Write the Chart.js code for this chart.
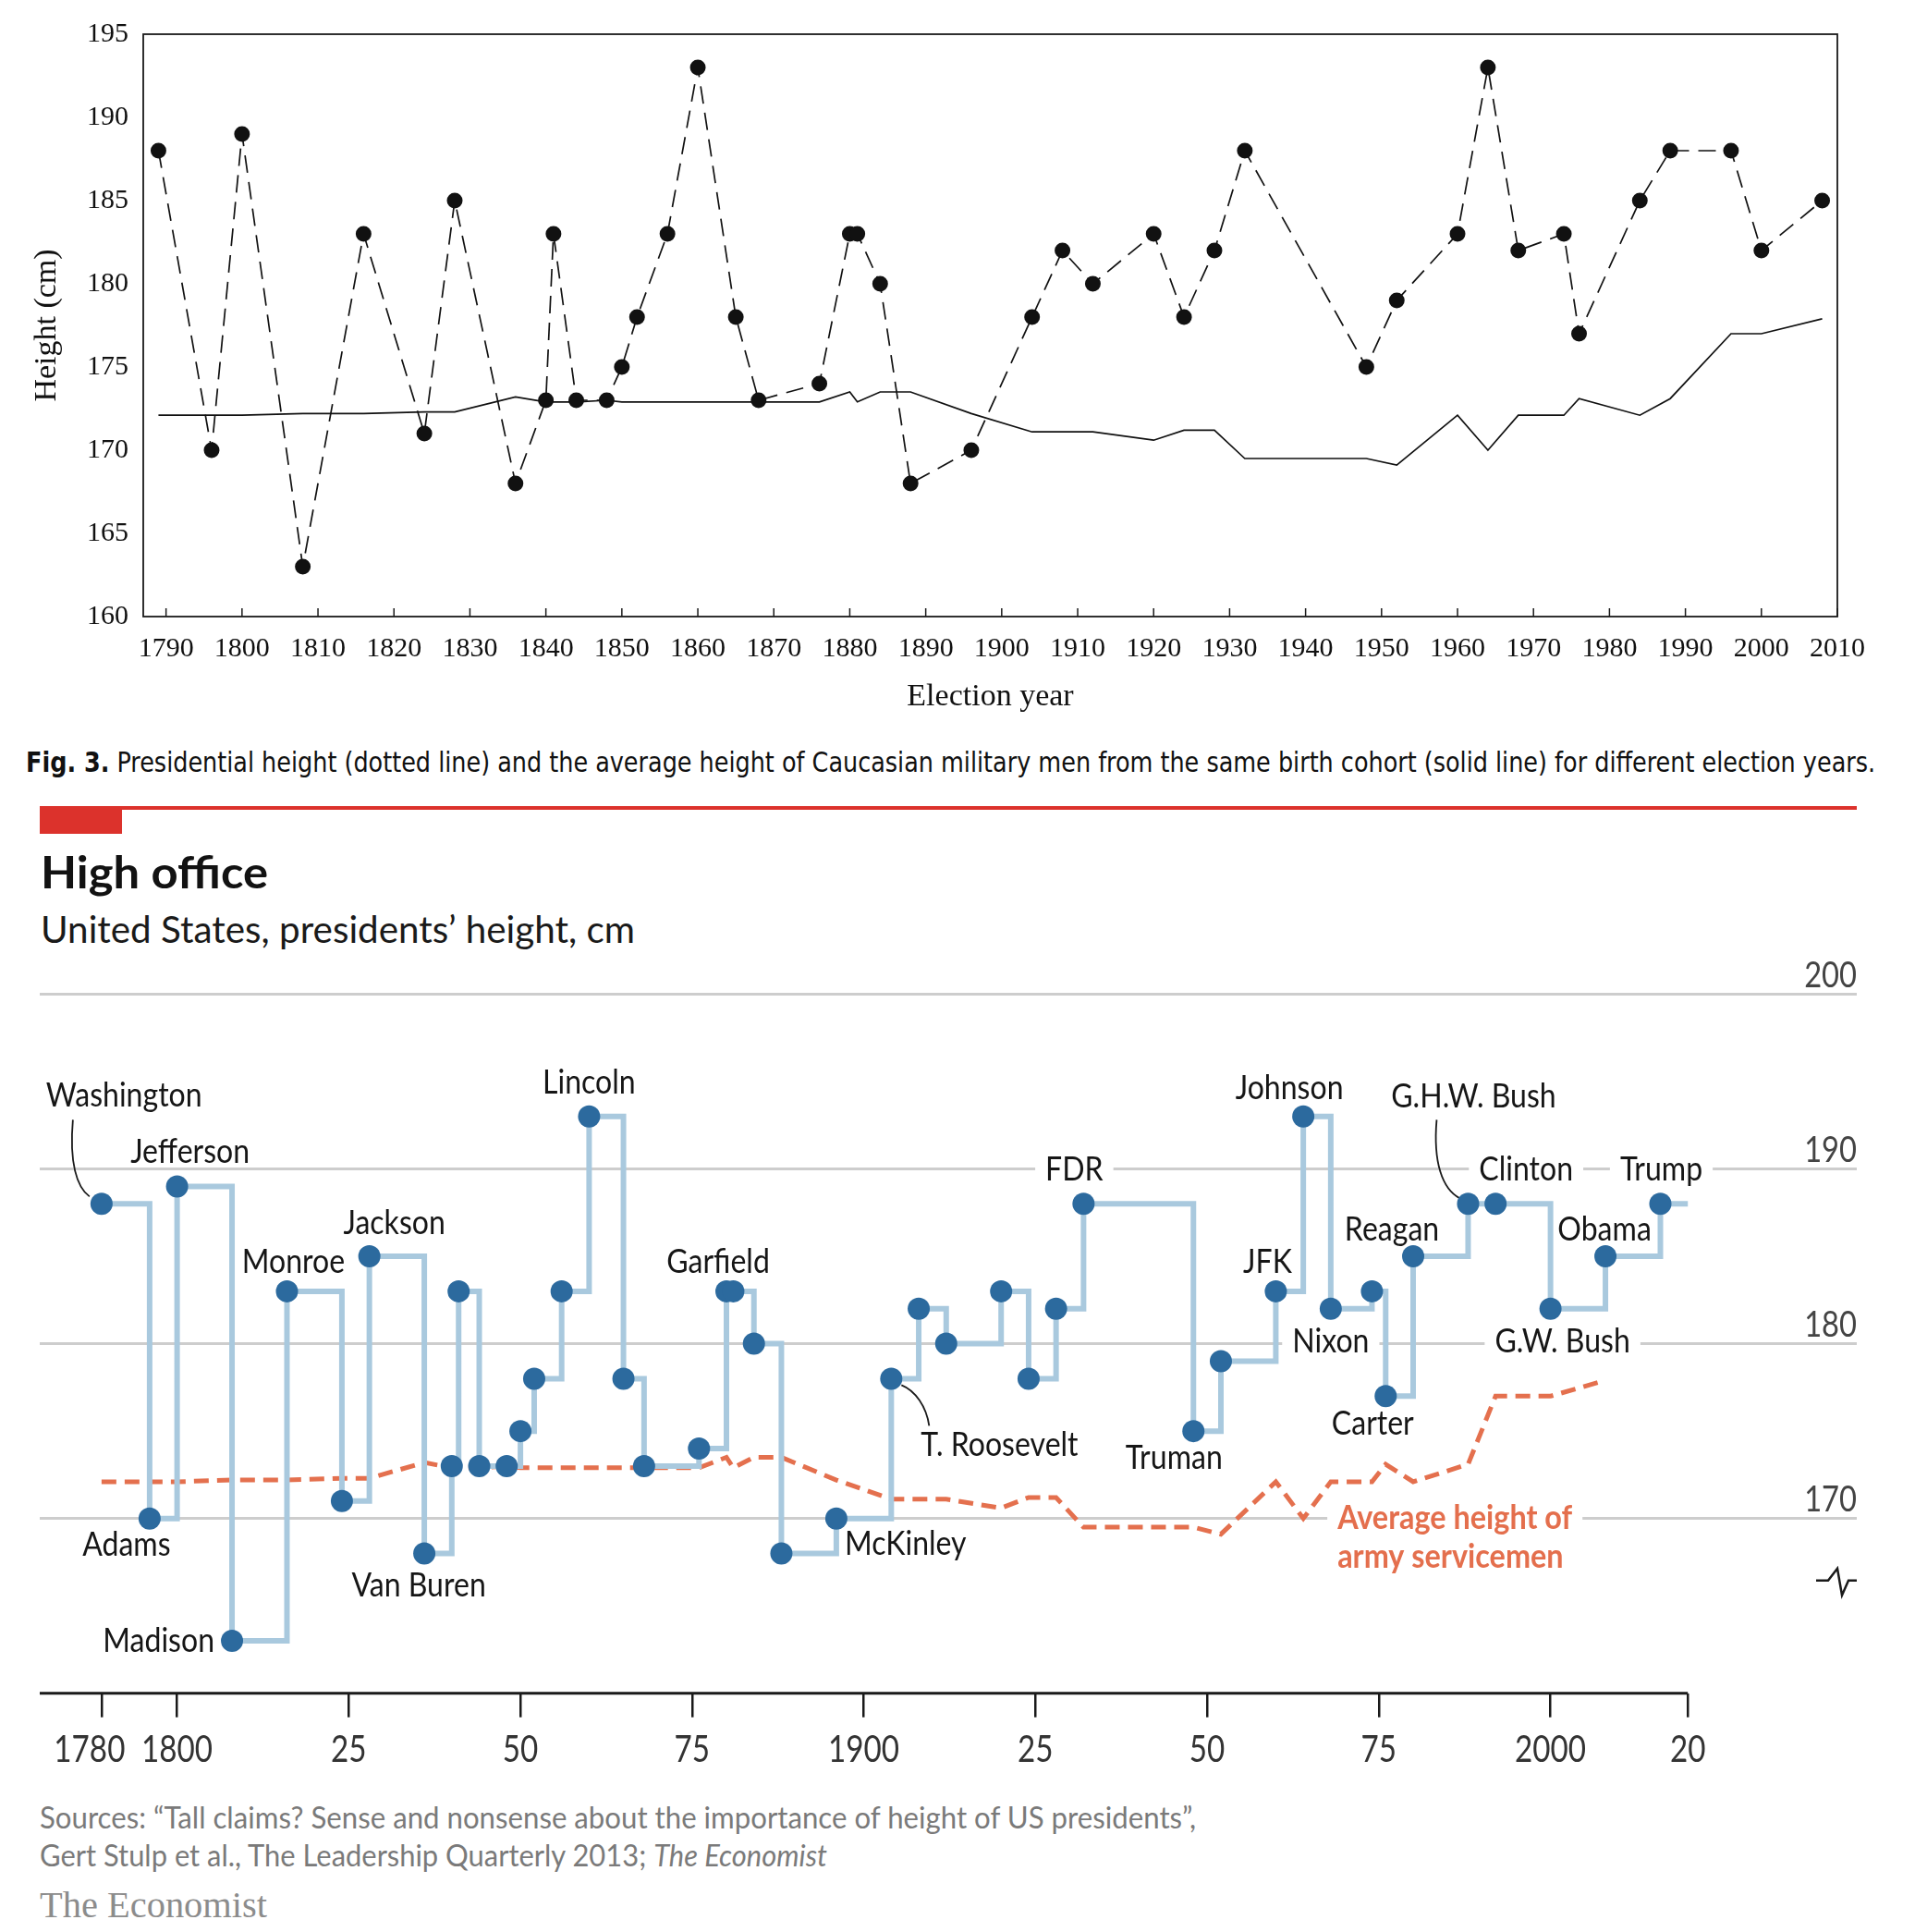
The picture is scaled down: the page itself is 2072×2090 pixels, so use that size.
<!DOCTYPE html>
<html>
<head>
<meta charset="utf-8">
<script src="https://cdn.jsdelivr.net/npm/chart.js@4.4.1/dist/chart.umd.min.js"></script>
<style>
html,body{margin:0;padding:0;background:#fff;}
body{width:2072px;height:2090px;position:relative;overflow:hidden;}
.abs{position:absolute;white-space:nowrap;}
.fit{display:inline-block;transform-origin:0 50%;white-space:nowrap;}
#topWrap{position:absolute;left:0;top:0;width:2072px;height:790px;}
#botWrap{position:absolute;left:0;top:1000px;width:2072px;height:940px;}
</style>
</head>
<body>
<div id="topWrap"><canvas id="topChart"></canvas></div>

<div class="abs" style="left:28px;top:804px;font:31px/40px 'Liberation Sans Narrow','DejaVu Sans Condensed','Liberation Sans',sans-serif;color:#111;">
<span class="fit" data-w="2001"><b>Fig. 3.</b> Presidential height (dotted line) and the average height of Caucasian military men from the same birth cohort (solid line) for different election years.</span></div>

<div class="abs" style="left:43px;top:872px;width:1966px;height:4px;background:#dc322c"></div>
<div class="abs" style="left:43px;top:872px;width:89px;height:30px;background:#dc322c"></div>

<div class="abs" style="left:44px;top:915px;font:bold 48px/56px Lato,'Noto Sans',sans-serif;color:#121212;">
<span class="fit" data-w="246">High office</span></div>
<div class="abs" style="left:44px;top:980px;font:41px/50px Lato,'Noto Sans',sans-serif;color:#1a1a1a;">
<span class="fit" data-w="643">United States, presidents’ height, cm</span></div>

<div id="botWrap"><canvas id="botChart"></canvas></div>

<div class="abs" style="left:43px;top:1945px;font:32px/41px Lato,'Noto Sans',sans-serif;color:#7a7a7a;">
<span class="fit" data-w="1251">Sources: “Tall claims? Sense and nonsense about the importance of height of US presidents”,</span><br>
<span class="fit" data-w="852">Gert Stulp et al., The Leadership Quarterly 2013; <i>The Economist</i></span></div>
<div class="abs" style="left:43px;top:2037px;font:40px/48px 'Liberation Serif','DejaVu Serif',serif;color:#8c8c8c;">
<span class="fit" data-w="246">The Economist</span></div>

<script>
// ---------------- DATA ----------------
const presidents = ["Washington","Adams","Jefferson","Madison","Monroe","J.Q. Adams","Jackson","Van Buren",
  "W.H. Harrison","Tyler","Polk","Taylor","Fillmore","Pierce","Buchanan","Lincoln","A. Johnson","Grant",
  "Hayes","Garfield","Arthur","Cleveland","B. Harrison","McKinley","T. Roosevelt","Taft","Wilson","Harding",
  "Coolidge","Hoover","FDR","Truman","Eisenhower","JFK","Johnson","Nixon","Ford","Carter","Reagan",
  "G.H.W. Bush","Clinton","G.W. Bush","Obama","Trump"];
const heightsCm = [188,170,189,163,183,171,185,168,173,183,173,173,175,178,183,193,178,173,174,183,183,180,
  168,170,178,182,180,183,178,182,188,175,179,183,193,182,183,177,185,188,188,182,185,188];
// election years used in Fig. 3 (Stulp et al.)
const yearsFig3 = [1789,1796,1800,1808,1816,1824,1828,1836,1840,1841,1844,1848,1850,1852,1856,1860,1865,1868,
  1876,1880,1881,1884,1888,1896,1904,1908,1912,1920,1924,1928,1932,1948,1952,1960,1964,1968,1974,1976,1984,
  1988,1996,2000,2008];
// years used in The Economist chart
const yearsEcon = [1789,1796,1800,1808,1816,1824,1828,1836,1840,1841,1844,1848,1850,1852,1856,1860,1865,1868,
  1876,1880,1881,1884,1888,1896,1904,1908,1912,1920,1924,1928,1932,1948,1952,1960,1964,1968,1974,1976,1980,
  1988,1992,2000,2008,2016];
const econLineEnd = 2020;
// average height of military men of the same birth cohort
const armyAvgCm = [172.1,172.1,172.1,172.2,172.2,172.3,172.3,173.2,172.9,172.9,172.9,173.0,172.9,172.9,172.9,
  172.9,172.9,172.9,172.9,173.5,172.9,173.5,173.5,172.2,171.1,171.1,171.1,170.6,171.2,171.2,169.5,169.5,169.1,
  172.1,170.0,172.1,172.1,173.1,172.1,173.1,177.0,177.0,177.9];
const fig3XTicks = [1790,1800,1810,1820,1830,1840,1850,1860,1870,1880,1890,1900,1910,1920,1930,1940,1950,1960,
  1970,1980,1990,2000,2010];
const fig3YTicks = [160,165,170,175,180,185,190,195];
const econXTicks = [1789,1800,1825,1850,1875,1900,1925,1950,1975,2000,2020];
const econXTickLabels = ["1780","1800","25","50","75","1900","25","50","75","2000","20"];
const econYTicks = [170,180,190,200];

// ---------------- LAYOUT / STYLE ----------------
const SERIF = "'Liberation Serif','DejaVu Serif',serif";
const SANS = "Lato,'Noto Sans',sans-serif";
const econLabels = [
 {i:0, dx:-60, dy:-117, align:'left'},
 {i:1, dx:-25, dy:29, align:'center'},
 {i:2, dx:14, dy:-37, align:'center'},
 {i:3, dx:-19, dy:0, align:'right'},
 {i:4, dx:7, dy:-31, align:'center'},
 {i:6, dx:27, dy:-36, align:'center'},
 {i:7, dx:-6, dy:35, align:'center'},
 {i:15, dx:0, dy:-36, align:'center'},
 {i:19, dx:-9, dy:-31, align:'center'},
 {i:23, dx:9, dy:28, align:'left'},
 {i:24, dx:32, dy:72, align:'left'},
 {i:30, dx:-10, dy:-37, align:'center', ko:true},
 {i:31, dx:-21, dy:29, align:'center'},
 {i:33, dx:-9, dy:-31, align:'center'},
 {i:34, dx:-15, dy:-30, align:'center'},
 {i:35, dx:0, dy:36, align:'center', ko:true},
 {i:37, dx:-14, dy:30, align:'center'},
 {i:38, dx:-23, dy:-29, align:'center'},
 {i:39, dx:6, dy:-116, align:'center'},
 {i:40, dx:33, dy:-37, align:'center', ko:true},
 {i:41, dx:13, dy:36, align:'center', ko:true},
 {i:42, dx:-1, dy:-29, align:'center'},
 {i:43, dx:1, dy:-37, align:'center', ko:true}
];
const econLeaders = [
 {i:0, p:[[-31,-91],[-35,-45],[-27,-18],[-13,-8]]},
 {i:24, p:[[11,7],[26,13],[38,30],[41,51]]},
 {i:39, p:[[-34,-91],[-38,-45],[-28,-16],[-9,-6]]}
];
const avgLabel = {i:34, dx:37, dy:0, gap:42, lines:["Average height of","army servicemen"]};
const firstXLabelShift = -13;

function txt(ctx, s, x, y, align, font, color, sx, base) {
  ctx.save();
  ctx.font = font; ctx.fillStyle = color; ctx.textAlign = align; ctx.textBaseline = base || 'middle';
  ctx.translate(x, y); ctx.scale(sx, 1); ctx.fillText(s, 0, 0);
  ctx.restore();
}
function knock(ctx, s, x, y, align, font, sx) {
  ctx.save(); ctx.font = font;
  const w = ctx.measureText(s).width * sx;
  let x0 = align === 'left' ? x : align === 'right' ? x - w : x - w / 2;
  ctx.fillStyle = '#fff';
  ctx.fillRect(x0 - 11, y - 15, w + 22, 30);
  ctx.restore();
}

// ---------------- TOP CHART ----------------
const fig3Frame = {
  id: 'fig3Frame',
  afterDraw(chart) {
    const {ctx, chartArea: a, scales: {x}} = chart;
    ctx.save();
    ctx.strokeStyle = '#1a1a1a'; ctx.lineWidth = 1.8;
    ctx.strokeRect(a.left, a.top, a.right - a.left, a.bottom - a.top);
    ctx.lineWidth = 1.5;
    fig3XTicks.forEach(v => {
      const px = x.getPixelForValue(v);
      ctx.beginPath(); ctx.moveTo(px, a.bottom); ctx.lineTo(px, a.bottom - 9); ctx.stroke();
    });
    ctx.restore();
  }
};

new Chart(document.getElementById('topChart'), {
  type: 'line',
  data: {
    datasets: [
      { label: 'Presidential height',
        data: yearsFig3.map((yr, k) => ({x: yr, y: heightsCm[k]})),
        borderColor: '#111', borderWidth: 1.7, borderDash: [19, 10],
        pointRadius: 8.5, pointBackgroundColor: '#111', pointBorderWidth: 0, tension: 0, fill: false },
      { label: 'Military average',
        data: yearsFig3.map((yr, k) => ({x: yr, y: armyAvgCm[k]})),
        borderColor: '#111', borderWidth: 1.7, pointRadius: 0, tension: 0, fill: false }
    ]
  },
  options: {
    responsive: true, maintainAspectRatio: false, devicePixelRatio: 1, animation: false, events: [],
    layout: {padding: {left: 0, right: 84, top: 37, bottom: 0}},
    plugins: {legend: {display: false}, tooltip: {enabled: false}},
    scales: {
      x: {
        type: 'linear', min: 1787, max: 2010,
        afterBuildTicks: s => { s.ticks = fig3XTicks.map(v => ({value: v})); },
        afterFit: s => { s.height = 123; },
        grid: {display: false, drawTicks: false}, border: {display: false},
        ticks: {font: {family: SERIF, size: 30}, color: '#111', padding: 17, maxRotation: 0, autoSkip: false,
                callback: v => String(v)},
        title: {display: true, text: 'Election year', font: {family: SERIF, size: 34}, color: '#111',
                padding: {top: 0, bottom: 16}}
      },
      y: {
        min: 160, max: 195,
        afterBuildTicks: s => { s.ticks = fig3YTicks.map(v => ({value: v})); },
        afterFit: s => { s.width = 155; },
        grid: {display: false, drawTicks: false}, border: {display: false},
        ticks: {font: {family: SERIF, size: 30}, color: '#111', padding: 16, callback: v => String(v)},
        title: {display: true, text: 'Height (cm)', font: {family: SERIF, size: 34}, color: '#111',
                padding: {top: 31, bottom: 0}}
      }
    }
  },
  plugins: [fig3Frame]
});

// ---------------- BOTTOM CHART ----------------
const econDeco = {
  id: 'econDeco',
  beforeDatasetsDraw(chart) {
    const {ctx, chartArea: a, scales: {x, y}} = chart;
    ctx.save();
    // axis baseline
    ctx.strokeStyle = '#1a1a1a'; ctx.lineWidth = 3;
    ctx.beginPath(); ctx.moveTo(a.left, a.bottom); ctx.lineTo(x.getPixelForValue(econLineEnd), a.bottom); ctx.stroke();
    // x tick labels
    econXTicks.forEach((v, k) => {
      const px = x.getPixelForValue(v) + (k === 0 ? firstXLabelShift : 0);
      txt(ctx, econXTickLabels[k], px, a.bottom + 74, 'center', '40px ' + SANS, '#333', 0.83, 'alphabetic');
    });
    // right-hand value labels
    econYTicks.forEach(v => {
      txt(ctx, String(v), a.right, y.getPixelForValue(v) - 8, 'right', '38px ' + SANS, '#444', 0.86, 'alphabetic');
    });
    // leaders
    ctx.strokeStyle = '#1a1a1a'; ctx.lineWidth = 1.8;
    econLeaders.forEach(L => {
      const px = x.getPixelForValue(yearsEcon[L.i]), py = y.getPixelForValue(heightsCm[L.i]);
      const p = L.p;
      ctx.beginPath();
      ctx.moveTo(px + p[0][0], py + p[0][1]);
      ctx.bezierCurveTo(px + p[1][0], py + p[1][1], px + p[2][0], py + p[2][1], px + p[3][0], py + p[3][1]);
      ctx.stroke();
    });
    // president labels
    const f = '36px ' + SANS;
    econLabels.forEach(L => {
      const px = x.getPixelForValue(yearsEcon[L.i]) + L.dx, py = y.getPixelForValue(heightsCm[L.i]) + L.dy;
      if (L.ko) knock(ctx, presidents[L.i], px, py, L.align, f, 0.89);
      txt(ctx, presidents[L.i], px, py, L.align, f, '#161616', 0.89);
    });
    // average label
    const fb = 'bold 36px ' + SANS;
    const ax = x.getPixelForValue(yearsEcon[avgLabel.i]) + avgLabel.dx;
    const ay = y.getPixelForValue(armyAvgCm[avgLabel.i]) + avgLabel.dy;
    avgLabel.lines.forEach((s, k) => {
      if (k === 0) knock(ctx, s, ax, ay, 'left', fb, 0.9);
      txt(ctx, s, ax, ay + k * avgLabel.gap, 'left', fb, '#e46f4d', 0.9);
    });
    // small line-chart icon
    ctx.strokeStyle = '#1a1a1a'; ctx.lineWidth = 2.5; ctx.lineJoin = 'miter';
    const ic = [[-44,-122],[-31,-122],[-21,-135],[-16,-106],[-9,-122],[0,-122]];
    ctx.beginPath();
    ic.forEach((q, k) => { const X = a.right + q[0], Y = a.bottom + q[1]; k ? ctx.lineTo(X, Y) : ctx.moveTo(X, Y); });
    ctx.stroke();
    ctx.restore();
  }
};

new Chart(document.getElementById('botChart'), {
  type: 'line',
  data: {
    datasets: [
      { label: 'President',
        data: yearsEcon.map((yr, k) => ({x: yr, y: heightsCm[k]}))
              .concat([{x: econLineEnd, y: heightsCm[heightsCm.length - 1]}]),
        stepped: 'before', borderColor: '#a9c9de', borderWidth: 6, borderJoinStyle: 'miter',
        pointRadius: c => (c.dataIndex < yearsEcon.length ? 12 : 0),
        pointBackgroundColor: '#2c6a9e', pointBorderWidth: 0, fill: false },
      { label: 'Average height of army servicemen',
        data: armyAvgCm.map((v, k) => ({x: yearsEcon[k], y: v})),
        borderColor: '#e4704e', borderWidth: 5, borderDash: [16, 9], borderJoinStyle: 'miter',
        pointRadius: 0, tension: 0, fill: false }
    ]
  },
  options: {
    responsive: true, maintainAspectRatio: false, devicePixelRatio: 1, animation: false, events: [],
    layout: {padding: {left: 43, right: 63, top: 75.5, bottom: 0}},
    plugins: {legend: {display: false}, tooltip: {enabled: false}},
    scales: {
      x: {
        type: 'linear', min: 1780, max: 2044.6,
        afterBuildTicks: s => { s.ticks = econXTicks.map(v => ({value: v})); },
        afterFit: s => { s.height = 108.3; },
        grid: {display: true, drawOnChartArea: false, drawTicks: true, tickLength: 26, color: '#1a1a1a', lineWidth: 2.5},
        border: {display: false},
        ticks: {display: false}
      },
      y: {
        min: 160, max: 200,
        afterBuildTicks: s => { s.ticks = econYTicks.map(v => ({value: v})); },
        afterFit: s => { s.width = 0; },
        grid: {display: true, drawTicks: false, color: '#cdcdcd', lineWidth: 3},
        border: {display: false},
        ticks: {display: false}
      }
    }
  },
  plugins: [econDeco]
});

// fit DOM text widths
document.querySelectorAll('.fit').forEach(el => {
  const w = el.getBoundingClientRect().width, t = +el.dataset.w;
  if (w > 0) el.style.transform = 'scaleX(' + (t / w).toFixed(4) + ')';
});
</script>
</body>
</html>
